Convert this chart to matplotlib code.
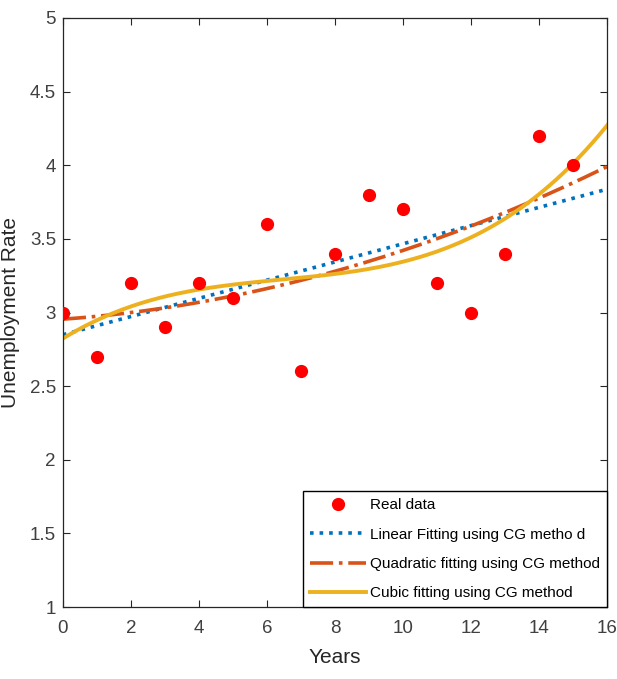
import numpy as np
import matplotlib
matplotlib.use("Agg")
import matplotlib.pyplot as plt

plt.rcParams['font.family'] = ['Liberation Sans', 'DejaVu Sans']

years = np.arange(0, 16)
rate = [3.0, 2.7, 3.2, 2.9, 3.2, 3.1, 3.6, 2.6, 3.4, 3.8, 3.7, 3.2, 3.0, 3.4, 4.2, 4.0]

xticks = np.arange(0, 17, 2)
yticks = [1, 1.5, 2, 2.5, 3, 3.5, 4, 4.5, 5]
ytick_labels = ['1', '1.5', '2', '2.5', '3', '3.5', '4', '4.5', '5']

# least squares fits of the data, degree 1..3
xs = np.linspace(0, 16, 300)
lin = np.polyval(np.polyfit(years, rate, 1), xs)
quad = np.polyval(np.polyfit(years, rate, 2), xs)
cub = np.polyval(np.polyfit(years, rate, 3), xs)

fig = plt.figure(figsize=(6.17, 6.79), dpi=100)
ax = fig.add_axes([0.102, 0.106, 0.882, 0.8675])

ax.plot(years, rate, 'o', color='#ff0000', markersize=8.5, label='Real data', zorder=5)
ax.plot(xs, lin, ':', color='#0072BD', lw=2.6, label='Linear Fitting using CG metho d')
ax.plot(xs, quad, '-.', color='#D95319', lw=2.6, label='Quadratic fitting using CG method')
ax.plot(xs, cub, '-', color='#EDB120', lw=2.8, label='Cubic fitting using CG method')

ax.set_xlim(0, 16)
ax.set_ylim(1, 5)
ax.set_xticks(xticks)
ax.set_yticks(yticks)
ax.set_yticklabels(ytick_labels)
ax.tick_params(direction='in', top=True, right=True, length=5, width=0.8,
               labelsize=13.5, colors='#262626', labelcolor='#404040')
ax.tick_params(axis='y', pad=5)
ax.tick_params(axis='x', pad=9)
for s in ax.spines.values():
    s.set_color('#262626')
    s.set_linewidth(0.9)

ax.set_xlabel('Years', fontsize=15, color='#262626', labelpad=8)
ax.set_ylabel('Unemployment Rate', fontsize=15, color='#262626')
ax.yaxis.set_label_coords(-0.079, 0.5)

leg = ax.legend(loc='lower right', fontsize=11, frameon=True, fancybox=False,
                framealpha=1, edgecolor='black', borderaxespad=0,
                handlelength=3.7, handletextpad=0.25, labelspacing=1.0,
                borderpad=0.45)
leg.get_frame().set_linewidth(1.0)

fig.savefig('out.png', dpi=100)
